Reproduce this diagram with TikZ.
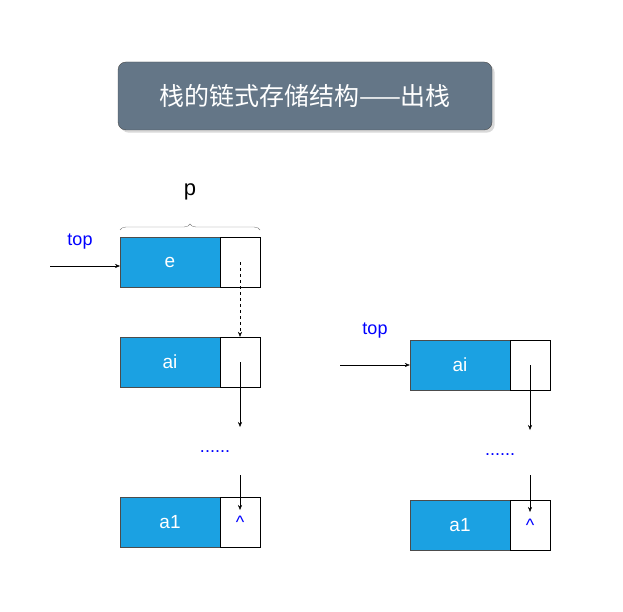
\documentclass[tikz,border=0pt]{standalone}
\usepackage{fontspec}
\setmainfont{Liberation Sans}
\newfontfamily\cjk{Noto Sans CJK SC}
\usetikzlibrary{decorations.pathreplacing,shadows,arrows.meta}
\definecolor{cellblue}{HTML}{1BA1E2}
\definecolor{titlebg}{HTML}{647687}
\tikzset{
 datacell/.style={draw=black!70,fill=cellblue,minimum width=100pt,minimum height=50pt,inner sep=0pt,text=white,font=\fontsize{19}{22}\selectfont},
 ptrcell/.style={draw=black,fill=white,minimum width=40pt,minimum height=50pt,inner sep=0pt},
 bluetxt/.style={text=blue,font=\fontsize{18}{20}\selectfont},
 arr/.style={-{Stealth[length=5pt,width=4pt]},black}
}
\begin{document}
\begin{tikzpicture}[x=1pt,y=-1pt]
\useasboundingbox (0,0) rectangle (623,612);
\node[draw=black!70,fill=titlebg,rounded corners=8pt,minimum width=374pt,minimum height=68pt,text=white,drop shadow={opacity=0.3},font=\cjk\fontsize{25}{28}\selectfont] (title) at (305,96) {栈的链式存储结构——出栈};
% left
\node[datacell] (e) at (170,262) {e};
\node[ptrcell] (ep) at (240,262) {};
\node[datacell] (ai) at (170,362) {ai};
\node[ptrcell] (aip) at (240,362) {};
\node[datacell] (a1) at (170,522) {a1};
\node[ptrcell] (a1p) at (240,522) {};
\draw[decorate,decoration={brace,amplitude=6pt},black!50] (120,230) -- (260,230) coordinate[midway] (bm);
\node[font=\fontsize{22}{24}\selectfont] (p) at (190,192) {p};
\node[bluetxt] (top1) at (80,242) {top};
\coordinate (s1) at (50,266);
\draw[arr] (s1) -- (120,266);
\draw[arr,dashed] (ep.center) -- (aip.north);
\node[bluetxt] (d1) at (215,452) {......};
\coordinate (t1) at (240,427);
\draw[arr] (aip.center) -- (t1);
\coordinate (u1) at (240,475);
\node[bluetxt] (c1) at (240,522) {\textasciicircum};
\draw[arr] (u1) -- (240,510);
% right
\node[datacell] (rai) at (460,365) {ai};
\node[ptrcell] (raip) at (530,365) {};
\node[datacell] (ra1) at (460,525) {a1};
\node[ptrcell] (ra1p) at (530,525) {};
\node[bluetxt] (top2) at (375,331) {top};
\coordinate (s2) at (340,365);
\draw[arr] (s2) -- (rai.west);
\coordinate (t2) at (530,430);
\draw[arr] (raip.center) -- (t2);
\node[bluetxt] (d2) at (500,455) {......};
\coordinate (u2) at (530,475);
\draw[arr] (u2) -- (530,512);
\node[bluetxt] (c2) at (530,525) {\textasciicircum};
\end{tikzpicture}
\end{document}
